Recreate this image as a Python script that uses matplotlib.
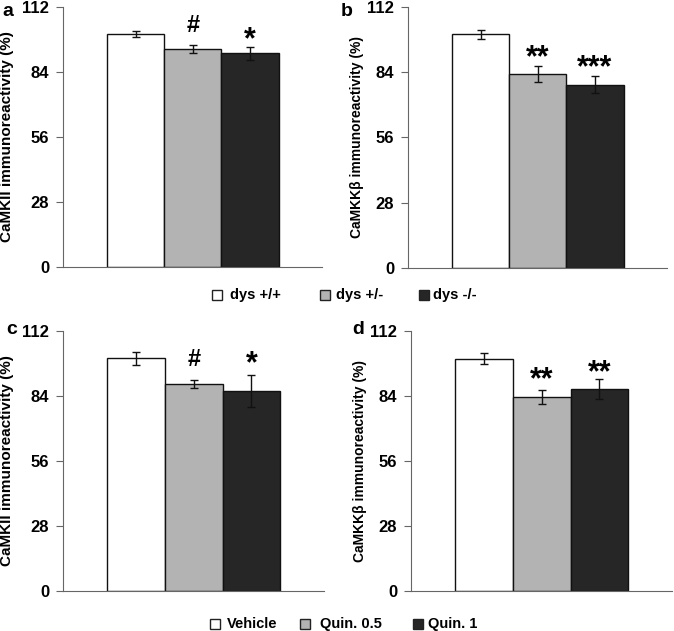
import matplotlib
matplotlib.use("Agg")
import matplotlib.pyplot as plt
from matplotlib.patches import Rectangle

plt.rcParams['font.family'] = ['Liberation Sans', 'DejaVu Sans']
plt.rcParams['font.weight'] = 'bold'

# ---- data ----
legend_top = ["dys +/+", "dys +/-", "dys -/-"]
legend_bottom = ["Vehicle", "Quin. 0.5", "Quin. 1"]
colors = ["#ffffff", "#b3b3b3", "#262626"]

a_vals = [100.3, 94.0, 92.1]
a_errs = [1.4, 1.8, 2.8]
a_marks = ["", "#", "*"]

b_vals = [100.3, 83.3, 78.7]
b_errs = [1.9, 3.4, 3.7]
b_marks = ["", "**", "***"]

c_vals = [100.2, 89.1, 86.2]
c_errs = [2.7, 1.8, 6.8]
c_marks = ["", "#", "*"]

d_vals = [100.1, 83.6, 86.9]
d_errs = [2.4, 2.9, 4.4]
d_marks = ["", "**", "**"]

yticks = [0, 28, 56, 84, 112]
ylab_ii = "CaMKII immunoreactivity (%)"
ylab_kk = "CaMKKβ immunoreactivity (%)"

W, H = 674, 631
fig = plt.figure(figsize=(W / 100, H / 100), dpi=100)

def ax_at(l, r, t, b):
    return fig.add_axes([l / W, 1 - b / H, (r - l) / W, (b - t) / H])

panels = [
    (ax_at(63, 322, 7, 267), a_vals, a_errs, a_marks, ylab_ii, 11, 6, "a", (2, 12), [25, 35]),
    (ax_at(408, 667, 7, 268), b_vals, b_errs, b_marks, ylab_kk, 10, 2, "b", (341, 12), [53, 63]),
    (ax_at(63, 324, 331, 591), c_vals, c_errs, c_marks, ylab_ii, 11, 6, "c", (6, 330), [359, 359]),
    (ax_at(411, 672, 331, 591), d_vals, d_errs, d_marks, ylab_kk, 10, 2, "d", (352, 330), [375, 368]),
]

xs = [0, 1, 2]
for ax, vals, errs, marks, ylab, ylfs, lpad, letter, lpos, mky in panels:
    ax.bar(xs, vals, width=1.0, color=colors, edgecolor="#111111", linewidth=1.0, zorder=2)
    ax.errorbar(xs, vals, yerr=errs, fmt="none", ecolor="#111111", elinewidth=1.0,
                capsize=3, capthick=1.0, zorder=3)
    ax.set_xlim(-1.27, 3.26)
    ax.set_ylim(0, 112)
    ax.set_yticks(yticks)
    ax.set_yticklabels([str(t) for t in yticks], fontsize=12, fontweight='bold')
    ax.set_xticks([])
    for s in ["top", "right"]:
        ax.spines[s].set_visible(False)
    ax.spines["left"].set_color("#666666")
    ax.spines["bottom"].set_color("#666666")
    ax.tick_params(axis="y", direction="out", length=5, color="#666666", pad=5)
    ax.set_ylabel(ylab, fontsize=ylfs, fontweight='bold', labelpad=lpad)
    fig.text(lpos[0] / W, 1 - lpos[1] / H, letter, fontsize=14, fontweight='bold',
             ha="left", va="center")
    for i, m in enumerate(marks):
        if m:
            star = "*" in m
            fs = 22 if star else 17
            yy = mky[i - 1] + (5 if star else 0)
            ax.annotate(m, xy=(xs[i], 0), xycoords=("data", "axes fraction"),
                        xytext=(xs[i], 1 - yy / H),
                        textcoords=("data", "figure fraction"),
                        ha="center", va="center", fontsize=fs, fontweight='bold')

def legend(labels, sq_x, tx_x, y):
    for lab, c, sx, tx in zip(labels, colors, sq_x, tx_x):
        fig.patches.append(Rectangle((sx / W, 1 - (y + 5) / H), 10 / W, 10 / H,
                                     transform=fig.transFigure, facecolor=c,
                                     edgecolor="#222222", linewidth=1.0))
        fig.text(tx / W, 1 - y / H, lab, fontsize=10.5, fontweight='bold',
                 ha="left", va="center")

legend(legend_top, [212, 320, 419], [230, 336, 433], 295)
legend(legend_bottom, [210, 300, 413], [227, 320, 428], 624)

fig.savefig("out.png", dpi=100)
